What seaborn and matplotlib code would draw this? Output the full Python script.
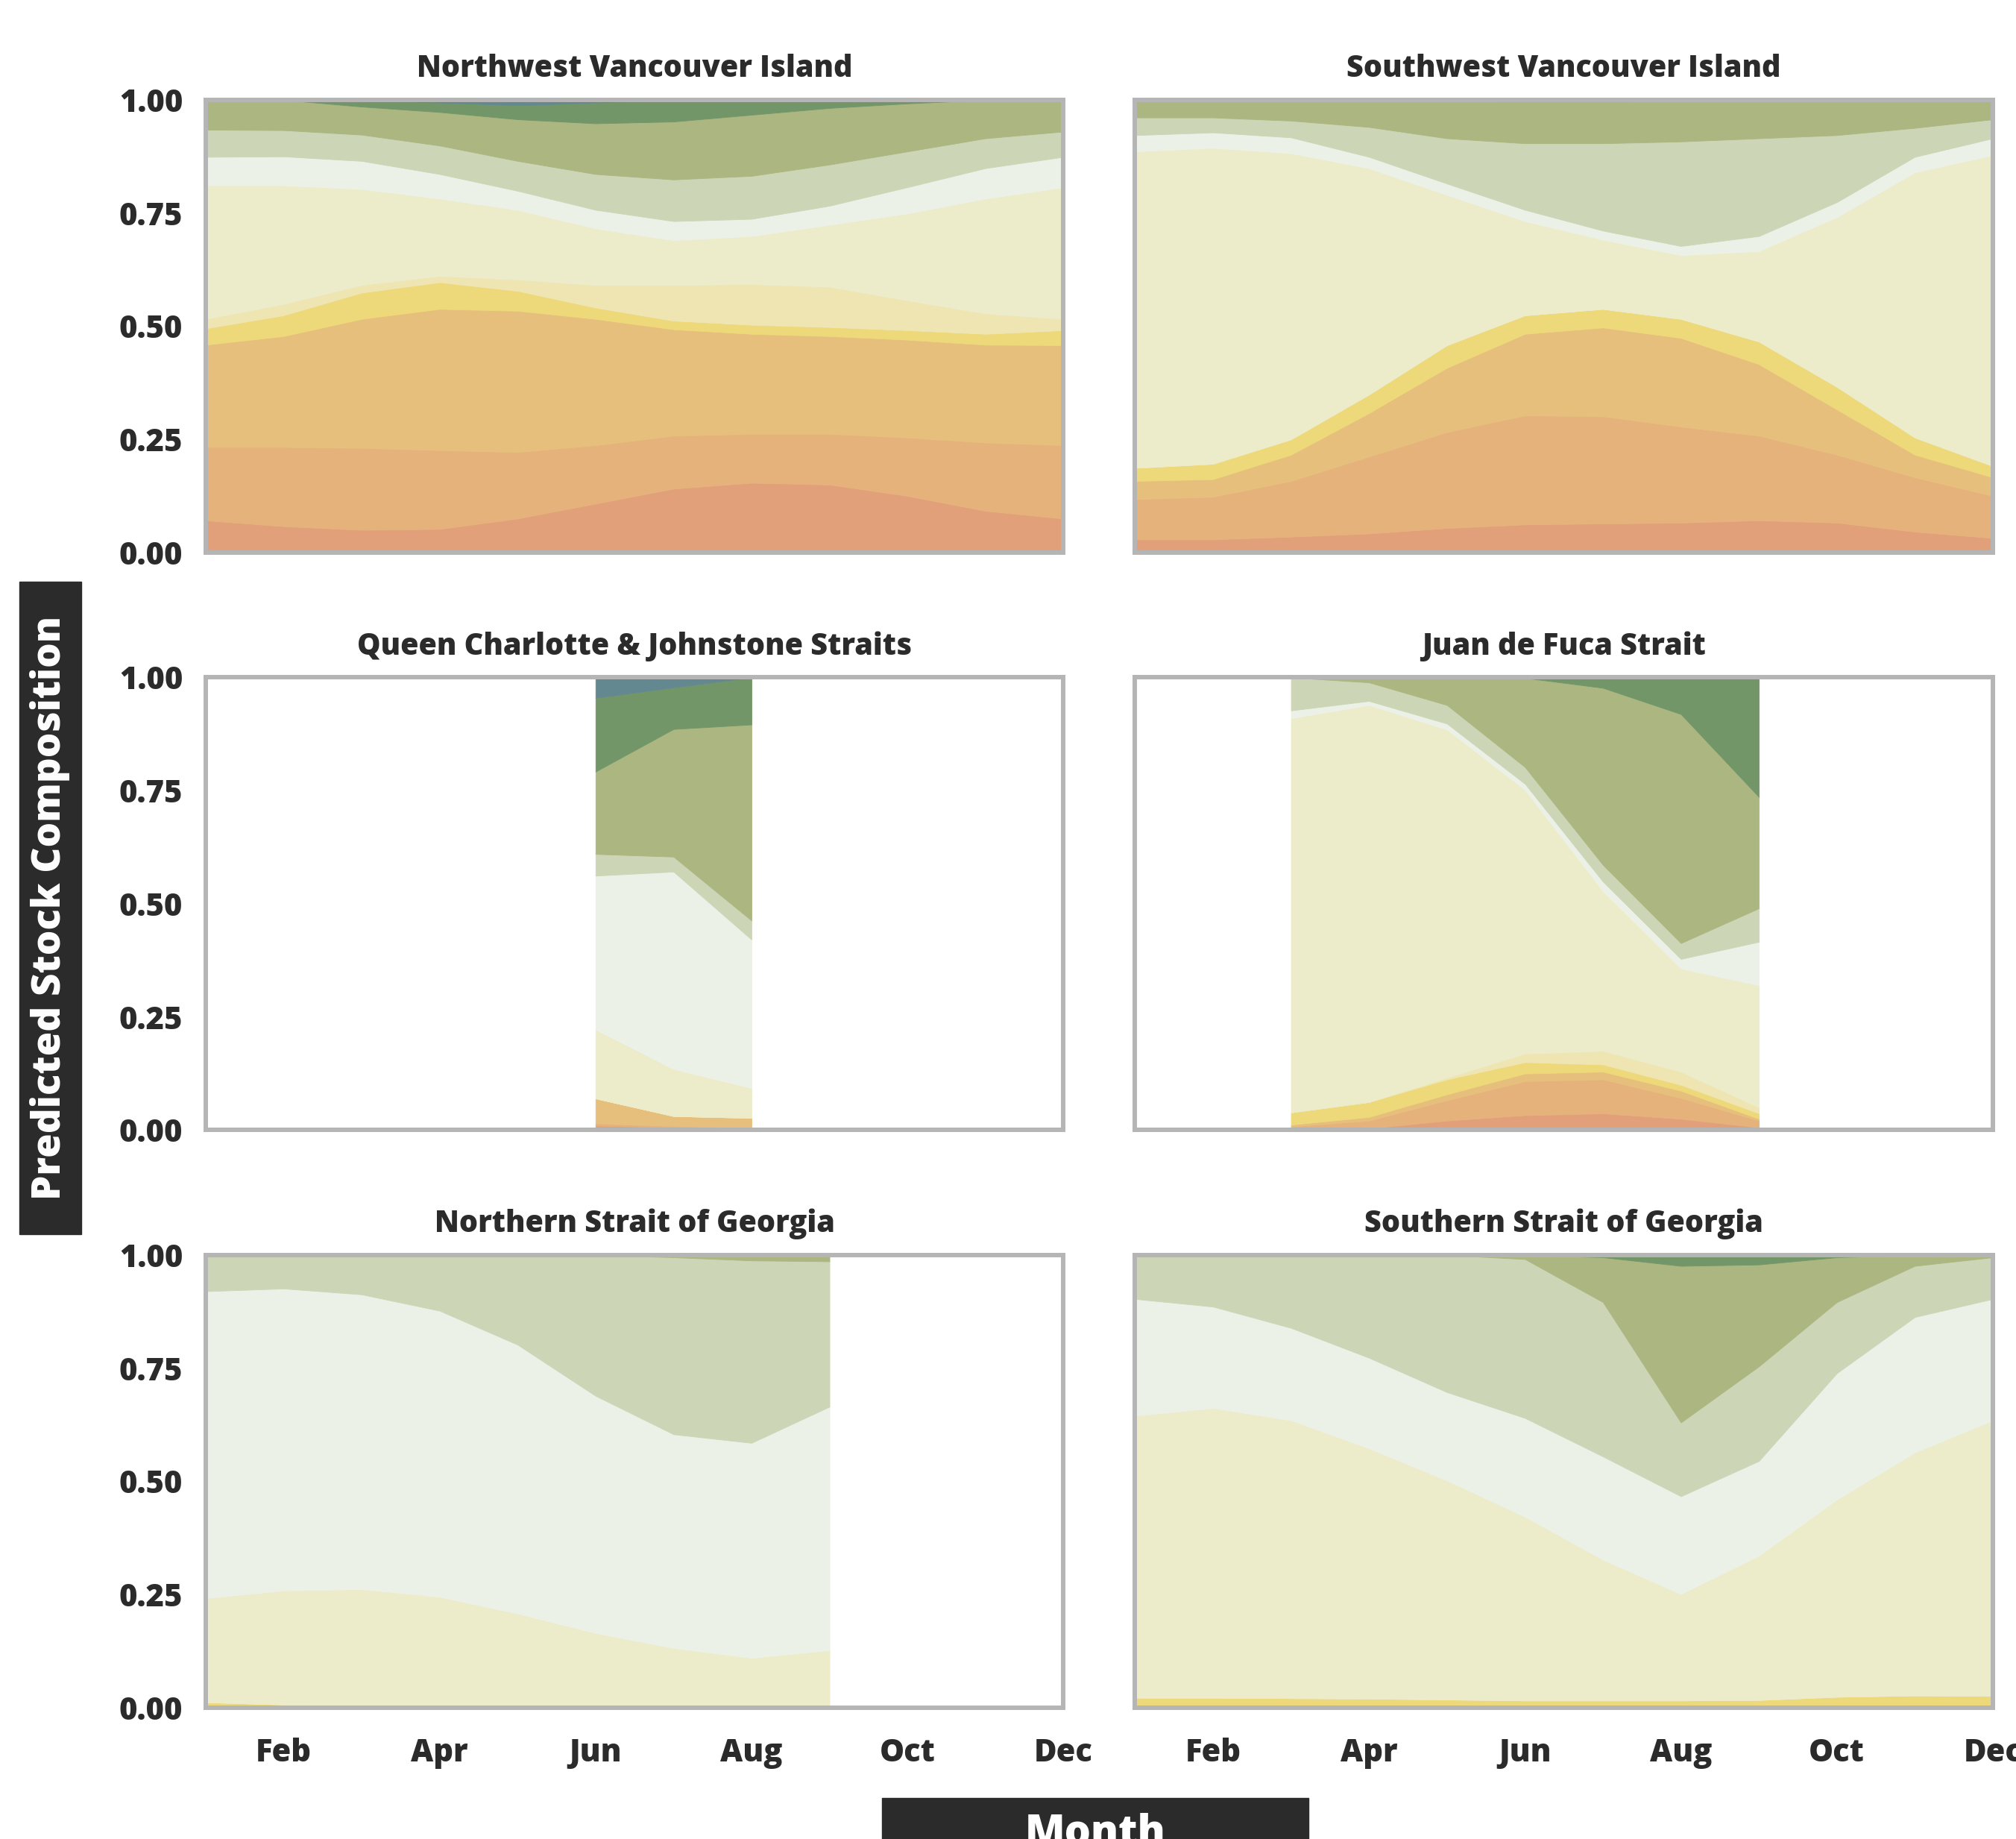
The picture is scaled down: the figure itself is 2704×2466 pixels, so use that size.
import numpy as np
import seaborn as sns
import matplotlib.pyplot as plt
from matplotlib.patches import Rectangle

# Stock groups, bottom of the stack first
stock_colors = ["#E2A07A", "#E5B27B", "#E7BF7C", "#EDD87A", "#EEE5B3", "#ECECCB",
                "#ECF1E8", "#CDD5B7", "#ABB681", "#739668", "#64888F"]

month_ticks = [2, 4, 6, 8, 10, 12]
month_labels = ["Feb", "Apr", "Jun", "Aug", "Oct", "Dec"]

# Northwest Vancouver Island (Jan-Dec)
nwvi_months = [1, 2, 3, 4, 5, 6, 7, 8, 9, 10, 11, 12]
nwvi = [
    [.071, .058, .050, .052, .075, .108, .141, .154, .150, .125, .092, .075],
    [.162, .175, .181, .174, .147, .129, .117, .108, .112, .129, .151, .162],
    [.226, .245, .285, .312, .312, .279, .235, .221, .216, .216, .216, .221],
    [.036, .046, .058, .059, .044, .025, .019, .020, .020, .021, .024, .033],
    [.021, .025, .017, .014, .025, .050, .079, .090, .089, .066, .045, .025],
    [.295, .262, .212, .171, .154, .125, .099, .106, .137, .192, .254, .291],
    [.063, .064, .062, .054, .042, .041, .042, .038, .042, .058, .067, .067],
    [.060, .058, .058, .063, .066, .079, .092, .095, .091, .079, .066, .056],
    [.066, .067, .062, .074, .092, .112, .128, .135, .125, .106, .085, .070],
    [0, 0, .013, .021, .031, .046, .048, .033, .018, .008, 0, 0],
    [0, 0, .002, .006, .012, .006, 0, 0, 0, 0, 0, 0],
]

# Southwest Vancouver Island (Jan-Dec)
swvi_months = [1, 2, 3, 4, 5, 6, 7, 8, 9, 10, 11, 12]
swvi = [
    [.029, .029, .035, .042, .054, .062, .064, .066, .071, .066, .046, .032],
    [.089, .094, .123, .170, .212, .241, .237, .212, .187, .150, .120, .093],
    [.040, .039, .058, .096, .142, .180, .196, .196, .158, .100, .050, .041],
    [.029, .034, .034, .041, .050, .041, .041, .042, .050, .050, .038, .025],
    [0, 0, 0, 0, 0, 0, 0, 0, 0, 0, 0, 0],
    [.699, .698, .632, .500, .332, .208, .153, .141, .200, .375, .586, .687],
    [.036, .034, .035, .025, .025, .025, .020, .020, .033, .033, .034, .037],
    [.039, .033, .037, .066, .100, .147, .193, .231, .216, .148, .064, .042],
    [.039, .039, .046, .060, .085, .093, .093, .092, .085, .078, .062, .043],
    [0, 0, 0, 0, 0, 0, 0, 0, 0, 0, 0, 0],
    [0, 0, 0, 0, 0, .003, .003, 0, 0, 0, 0, 0],
]

# Queen Charlotte & Johnstone Straits (Jun-Aug only)
qcjs_months = [6, 7, 8]
qcjs = [
    [.010, .006, .003],
    [.005, .003, .002],
    [.055, .022, .022],
    [0, 0, 0],
    [0, 0, 0],
    [.152, .104, .066],
    [.340, .436, .328],
    [.048, .033, .042],
    [.182, .282, .433],
    [.163, .092, .104],
    [.045, .022, 0],
]

# Juan de Fuca Strait (Mar-Sep)
jdf_months = [3, 4, 5, 6, 7, 8, 9]
jdf = [
    [.002, .004, .021, .033, .037, .025, .006],
    [.006, .017, .045, .075, .075, .046, .015],
    [.004, .008, .013, .017, .017, .016, .004],
    [.027, .033, .033, .025, .016, .013, .012],
    [0, 0, .004, .019, .030, .029, .013],
    [.871, .877, .769, .583, .353, .228, .270],
    [.017, .009, .013, .013, .021, .021, .096],
    [.073, .041, .041, .037, .037, .035, .074],
    [0, .011, .061, .197, .391, .506, .246],
    [0, 0, 0, .001, .023, .081, .264],
    [0, 0, 0, 0, 0, 0, 0],
]

# Northern Strait of Georgia (Jan-Sep)
nsog_months = [1, 2, 3, 4, 5, 6, 7, 8, 9]
nsog = [
    [0, 0, 0, 0, 0, 0, 0, 0, 0],
    [0, 0, 0, 0, 0, 0, 0, 0, 0],
    [0, 0, 0, 0, 0, 0, 0, 0, 0],
    [.012, .007, .003, 0, 0, 0, .002, .003, .005],
    [0, 0, 0, 0, 0, 0, 0, 0, 0],
    [.230, .252, .259, .245, .208, .165, .130, .107, .122],
    [.678, .667, .651, .632, .594, .524, .472, .475, .538],
    [.080, .074, .087, .123, .198, .311, .391, .403, .321],
    [0, 0, 0, 0, 0, 0, .005, .012, .012],
    [0, 0, 0, 0, 0, 0, 0, 0, .002],
    [0, 0, 0, 0, 0, 0, 0, 0, 0],
]

# Southern Strait of Georgia (Jan-Dec)
ssog_months = [1, 2, 3, 4, 5, 6, 7, 8, 9, 10, 11, 12]
ssog = [
    [0, 0, 0, 0, 0, 0, 0, 0, 0, .004, .005, .004],
    [0, 0, 0, 0, 0, 0, 0, 0, 0, 0, 0, 0],
    [0, 0, 0, 0, 0, 0, 0, 0, 0, 0, 0, 0],
    [.022, .022, .021, .020, .018, .016, .016, .016, .017, .020, .022, .022],
    [0, 0, 0, 0, 0, 0, 0, 0, 0, 0, 0, 0],
    [.623, .640, .614, .553, .484, .406, .311, .235, .319, .436, .537, .609],
    [.258, .224, .204, .200, .195, .218, .228, .216, .209, .279, .299, .268],
    [.097, .114, .161, .227, .303, .351, .341, .163, .209, .157, .113, .092],
    [0, 0, 0, 0, 0, .009, .099, .346, .225, .099, .024, .005],
    [0, 0, 0, 0, 0, 0, .005, .024, .021, .005, 0, 0],
    [0, 0, 0, 0, 0, 0, 0, 0, 0, 0, 0, 0],
]

regions = [
    ("Northwest Vancouver Island", nwvi_months, nwvi),
    ("Southwest Vancouver Island", swvi_months, swvi),
    ("Queen Charlotte & Johnstone Straits", qcjs_months, qcjs),
    ("Juan de Fuca Strait", jdf_months, jdf),
    ("Northern Strait of Georgia", nsog_months, nsog),
    ("Southern Strait of Georgia", ssog_months, ssog),
]

sns.set_theme(style="white")
plt.rcParams['font.family'] = ['Open Sans', 'DejaVu Sans']
ink = "#2B2B2B"
frame = "#B5B5B5"
heavy = 800
palette = sns.color_palette(stock_colors)

fig, axs = plt.subplots(nrows=3, ncols=2, figsize=(27.04, 24.66), dpi=100)
fig.subplots_adjust(left=0.102, right=0.9885, bottom=0.0714, top=0.9457,
                    wspace=0.0835, hspace=0.276)

for i, (title, x, shares) in enumerate(regions):
    ax = axs[i // 2][i % 2]
    ax.stackplot(x, np.array(shares), colors=palette,
                 edgecolor='face', linewidth=0.6)
    ax.set_xlim(1, 12)
    ax.set_ylim(0, 1)
    ax.set_title(title, fontsize=28.5, fontweight=heavy, color=ink, pad=22)
    for sp in ax.spines.values():
        sp.set_visible(True)
        sp.set_color(frame)
        sp.set_linewidth(4.3)
    ax.set_xticks(month_ticks)
    ax.set_yticks([0, 0.25, 0.5, 0.75, 1.0])
    ax.tick_params(colors=frame, length=9, width=2, labelcolor=ink,
                   labelsize=30)
    ax.tick_params(axis='y', pad=13)
    ax.tick_params(axis='x', pad=20)
    if i // 2 == 2:
        ax.set_xticklabels(month_labels, fontweight=heavy)
    else:
        ax.tick_params(axis='x', bottom=False, labelbottom=False)
    if i % 2 == 0:
        ax.set_yticklabels(["0.00", "0.25", "0.50", "0.75", "1.00"],
                           fontweight=heavy)
    else:
        ax.tick_params(axis='y', left=False, labelleft=False)

# Boxed axis titles
fig.patches.append(Rectangle((26 / 2704, 1 - 1655 / 2466), 83 / 2704, 875 / 2466,
                             transform=fig.transFigure, color=ink, zorder=0))
fig.text(67 / 2704, 1 - 1217 / 2466, "Predicted Stock Composition", rotation=90,
         ha='center', va='center', color='white', fontsize=38, fontweight=heavy)
fig.patches.append(Rectangle((1183 / 2704, 0), 572 / 2704, 55 / 2466,
                             transform=fig.transFigure, color=ink, zorder=0))
fig.text(1469 / 2704, 1 - 2430 / 2466, "Month", ha='center', va='top',
         color='white', fontsize=40, fontweight=heavy)

fig.savefig("out.png", dpi=100, facecolor='white')
